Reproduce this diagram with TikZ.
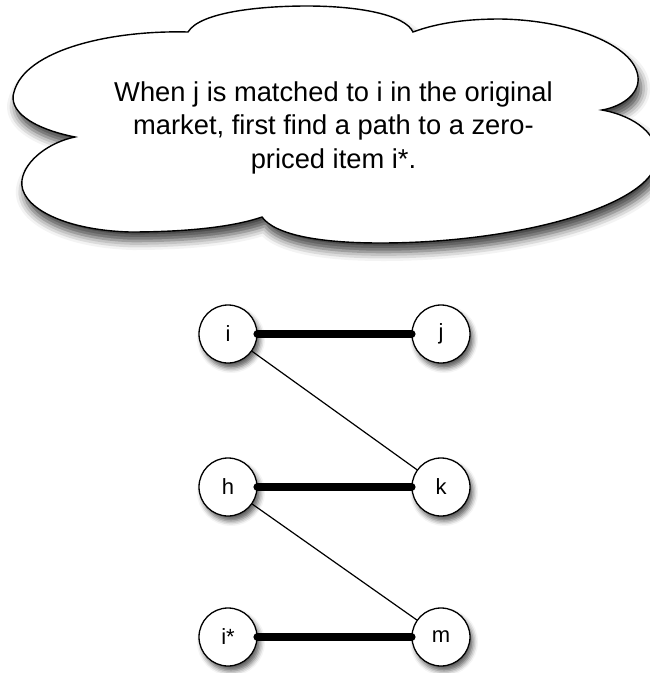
\documentclass[tikz,border=0pt]{standalone}
\usepackage{fontspec}
\setmainfont{Liberation Sans}
\usetikzlibrary{shadows.blur}
\begin{document}
\begin{tikzpicture}[x=1pt,y=-1pt,
  vtx/.style={circle, draw, line width=1.3pt, fill=white, minimum size=58pt, inner sep=0pt,
    font=\fontsize{22}{26}\selectfont,
    blur shadow={shadow xshift=3pt, shadow yshift=-5pt, shadow blur radius=5pt, shadow opacity=65}},
  matchedge/.style={line width=8.5pt, line cap=round},
  thinedge/.style={line width=1.2pt},
  cloudshape/.style={draw, line width=1.4pt, fill=white,
    blur shadow={shadow xshift=3pt, shadow yshift=-9pt, shadow blur radius=9pt, shadow opacity=75}},
  cloudtext/.style={align=center, inner sep=0pt, font=\fontsize{27.3}{33.5}\selectfont}]
\useasboundingbox (0,0) rectangle (650,673);
% cloud
\path[cloudshape] (75,137)
  .. controls (30,128) and (8,110) .. (14,92)
  .. controls (25,50) and (110,30) .. (188,32)
  .. controls (200,12) and (260,6) .. (307,6)
  .. controls (360,6) and (405,15) .. (413,32)
  .. controls (440,22) and (470,19) .. (500,19)
  .. controls (570,20) and (635,45) .. (638,77)
  .. controls (640,95) and (620,107) .. (602,110)
  .. controls (635,116) and (660,135) .. (657,160)
  .. controls (652,205) and (520,243) .. (380,243)
  .. controls (320,243) and (275,235) .. (262,217)
  .. controls (230,228) and (180,232) .. (130,232)
  .. controls (60,230) and (18,205) .. (22,180)
  .. controls (25,160) and (50,142) .. (75,137) -- cycle;
\node[cloudtext] (txt) at (333.5,127.5) {When j is matched to i in the original\\market, first find a path to a zero-\\priced item i*.};
% vertices
\node[vtx] (i) at (228,334) {i};
\node[vtx] (j) at (441,334) {j};
\node[vtx] (h) at (228,487) {h};
\node[vtx] (k) at (441,487) {k};
\node[vtx] (is) at (228,637) {i*};
\node[vtx] (m) at (441,637) {m};
% edges
\draw[thinedge] (i) -- (k);
\draw[thinedge] (h) -- (m);
\draw[matchedge] (i) -- (j);
\draw[matchedge] (h) -- (k);
\draw[matchedge] (is) -- (m);
\end{tikzpicture}
\end{document}
